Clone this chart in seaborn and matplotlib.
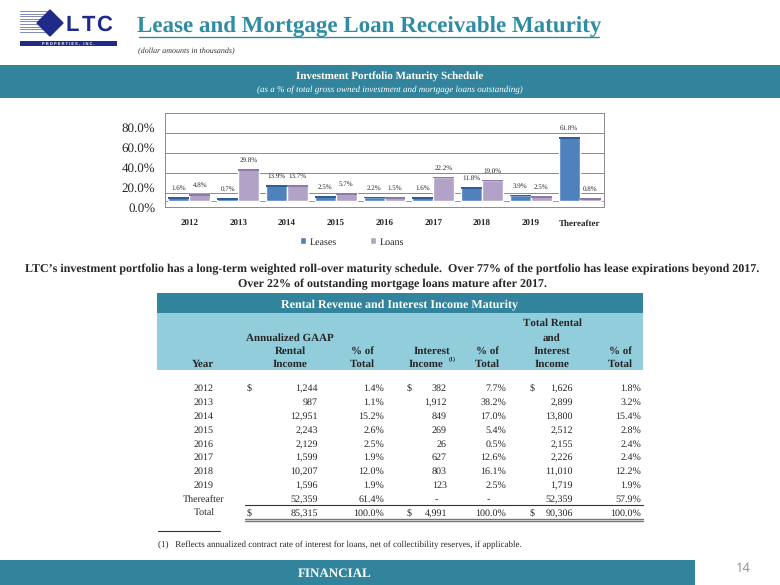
"""LTC slide 14: lease and mortgage loan receivable maturity."""

import matplotlib
matplotlib.use("Agg")
import matplotlib.pyplot as plt
import numpy as np
import pandas as pd
import seaborn as sns
from matplotlib.lines import Line2D
from matplotlib.patches import Polygon, Rectangle

# chart data (% of total gross owned investment and loans)
chart_years = ["2012", "2013", "2014", "2015", "2016", "2017", "2018", "2019", "Thereafter"]
leases = [1.6, 0.7, 13.9, 2.5, 2.2, 1.6, 11.8, 3.9, 61.8]
loans = [4.8, 29.8, 13.7, 5.7, 1.5, 22.2, 19.0, 2.5, 0.8]

# table data (dollar amounts in thousands)
table_years = ["2012", "2013", "2014", "2015", "2016", "2017", "2018", "2019", "Thereafter"]
rental_income = [1244, 987, 12951, 2243, 2129, 1599, 10207, 1596, 52359]
rental_pct = [1.4, 1.1, 15.2, 2.6, 2.5, 1.9, 12.0, 1.9, 61.4]
interest_income = [382, 1912, 849, 269, 26, 627, 803, 123, None]
interest_pct = [7.7, 38.2, 17.0, 5.4, 0.5, 12.6, 16.1, 2.5, None]
total_income = [1626, 2899, 13800, 2512, 2155, 2226, 11010, 1719, 52359]
total_pct = [1.8, 3.2, 15.4, 2.8, 2.4, 2.4, 12.2, 1.9, 57.9]
sum_rental, sum_interest, sum_total = 85315, 4991, 90306

TEAL = "#31849B"
LIGHT = "#92CDDC"
TITLE_C = "#2E8DA3"
NAVY = "#1F2A8A"
LEASE_C = "#4F81BD"
LOAN_C = "#B3A2C7"

W, H = 780, 585

sns.set_style("white")
plt.rcParams["font.family"] = "Liberation Serif"
# hinting off keeps numbers with commas on the same baseline as the rest of the row
plt.rcParams["text.hinting"] = "no_hinting"
plt.rcParams["text.hinting_factor"] = 1

fig = plt.figure(figsize=(W / 100, H / 100), dpi=100)


def fx(x):
    return x / W


def fy(y):
    return 1 - y / H


def box(x0, y0, x1, y1, color, z=0):
    fig.add_artist(Rectangle((fx(x0), fy(y1)), (x1 - x0) / W, (y1 - y0) / H,
                             transform=fig.transFigure, color=color, lw=0, zorder=z))


def hline(x0, x1, y, color="#555555", lw=0.8):
    fig.add_artist(Line2D([fx(x0), fx(x1)], [fy(y), fy(y)], transform=fig.transFigure,
                          color=color, lw=lw))


def txt(x, y, s, size=7.5, ha="center", **kw):
    # y is the visual middle of the caps
    fig.text(fx(x), fy(round(y + 0.46 * size)), s, fontsize=size, ha=ha, va="baseline", **kw)


# ---- logo ----
for yy in np.arange(11, 34, 2.6):
    hline(20, 50, yy, color="#7E88B8", lw=0.7)
fig.add_artist(Polygon([(fx(37), fy(23)), (fx(50), fy(10)), (fx(63), fy(23)), (fx(50), fy(36))],
                       closed=True, transform=fig.transFigure, color=NAVY, zorder=2))
for lx, letter in zip([72, 88, 104], "LTC"):
    txt(lx, 24, letter, size=16, family="Liberation Sans", weight="bold", color=NAVY)
box(20, 41, 117, 46, NAVY, z=2)
txt(68, 43.6, "P R O P E R T I E S ,   I N C .", size=3.2, family="Liberation Sans",
    weight="bold", color="white", zorder=3)

# ---- title ----
fig.text(fx(369), fy(33), "Lease and Mortgage Loan Receivable Maturity", fontsize=16.5,
         ha="center", va="baseline", weight="bold", color=TITLE_C)
hline(139, 599, 37, color=TITLE_C, lw=1.0)
txt(138, 50, "(dollar amounts in thousands)", size=6, ha="left", style="italic", color="#333333")

# ---- chart band ----
box(0, 65, W, 98, TEAL)
txt(390, 76, "Investment Portfolio Maturity Schedule", size=8, weight="bold", color="white")
txt(390, 89, "(as a % of total gross owned investment and mortgage loans outstanding)",
    size=6.3, style="italic", color="white")

# ---- chart ----
ax = fig.add_axes([fx(165), fy(207), (604 - 165) / W, (207 - 113) / H])
df = pd.DataFrame({
    "year": chart_years * 2,
    "value": leases + loans,
    "series": ["Leases"] * len(leases) + ["Loans"] * len(loans),
})
sns.barplot(data=df, x="year", y="value", hue="series", palette=[LEASE_C, LOAN_C],
            width=0.86, saturation=1, ax=ax, errorbar=None)

# fake the 3-D look of the original: lifted floor and a darker top face
FLOOR, LIFT, CAP = 6.4, 8.3, 1.6
tops = {LEASE_C: "#2F5E98", LOAN_C: "#8E7AAA"}
for cont, col in zip(ax.containers, [LEASE_C, LOAN_C]):
    for bar in cont:
        v = bar.get_height()
        x, w = bar.get_x(), bar.get_width()
        bar.set_y(FLOOR)
        bar.set_height(v + LIFT - FLOOR)
        ax.add_patch(Rectangle((x, v + LIFT - CAP), w, CAP, color=tops[col], lw=0, zorder=3))
        ax.text(x + w / 2, v + 17, f"{v:.1f}%", fontsize=5, ha="center", va="center")

ax.set_ylim(0, 94.5)
ax.set_xlim(-0.5, len(chart_years) - 0.5)
for g in [14, 34, 54, 74]:
    ax.axhline(g, color="#8A8A8A", lw=0.7, zorder=0)
ax.axhline(FLOOR, color="#8A8A8A", lw=0.6, zorder=0)
ax.set_yticks([0, 20, 40, 60, 80])
ax.set_yticklabels([f"{t:.1f}%" for t in [0, 20, 40, 60, 80]], fontsize=9.5)
ax.set_xticks(range(len(chart_years)))
ax.set_xticklabels(chart_years, fontsize=6.5, weight="bold")
ax.set_xticks(np.arange(-0.5, len(chart_years)), minor=True)
ax.tick_params(axis="x", which="major", length=0, pad=9)
ax.tick_params(axis="x", which="minor", length=3, color="#8A8A8A", direction="out")
ax.tick_params(axis="y", length=3, color="#8A8A8A", direction="out", pad=4)
ax.set_xlabel("")
ax.set_ylabel("")
for s in ax.spines.values():
    s.set_color("#8A8A8A")
    s.set_linewidth(0.7)

handles, labels = ax.get_legend_handles_labels()
ax.legend(handles, labels, loc="center", bbox_to_anchor=((352 - 165) / (604 - 165), -(242 - 207) / 94),
          ncol=2, frameon=False, fontsize=7.5, handlelength=0.6, handleheight=0.6,
          handletextpad=0.3, columnspacing=3.2)

# ---- paragraph ----
txt(392, 268, "LTC\u2019s investment portfolio has a long-term weighted roll-over maturity schedule.  "
    "Over 77% of the portfolio has lease expirations beyond 2017.", size=8.6, weight="bold")
txt(392, 283, "Over 22% of outstanding mortgage loans mature after 2017.", size=8.6, weight="bold")

# ---- table header ----
box(157, 293, 643, 313, TEAL)
box(157, 313, 643, 370, LIGHT)
txt(400, 303, "Rental Revenue and Interest Income Maturity", size=8.5, weight="bold", color="white")
hb = dict(size=8, weight="bold")
txt(203, 363, "Year", **hb)
txt(290, 337, "Annualized GAAP", **hb)
txt(290, 350, "Rental", **hb)
txt(290, 363, "Income", **hb)
txt(362, 350, "% of", **hb)
txt(362, 363, "Total", **hb)
txt(432, 350, "Interest", **hb)
txt(426, 363, "Income", **hb)
txt(452, 359, "(1)", size=4.5, weight="bold")
txt(487, 350, "% of", **hb)
txt(487, 363, "Total", **hb)
txt(552, 322, "Total Rental", **hb)
txt(552, 337, "and", **hb)
txt(552, 350, "Interest", **hb)
txt(552, 363, "Income", **hb)
txt(620, 350, "% of", **hb)
txt(620, 363, "Total", **hb)

# ---- table rows ----
X_YEAR, X_D1, X_R, X_RP, X_D2, X_I, X_IP, X_D3, X_T, X_TP = 204, 247, 318, 384, 407, 447, 506, 530, 573, 641
ROW0, STEP = 388, 13.8
for i, yr in enumerate(table_years):
    y = ROW0 + i * STEP
    txt(X_YEAR, y, yr)
    txt(X_R, y, f"{rental_income[i]:,}", ha="right")
    txt(X_RP, y, f"{rental_pct[i]:.1f}%", ha="right")
    if interest_income[i] is None:
        txt(436, y, "-")
        txt(488, y, "-")
    else:
        txt(X_I, y, f"{interest_income[i]:,}", ha="right")
        txt(X_IP, y, f"{interest_pct[i]:.1f}%", ha="right")
    txt(X_T, y, f"{total_income[i]:,}", ha="right")
    txt(X_TP, y, f"{total_pct[i]:.1f}%", ha="right")
    if i == 0:
        for xd in (X_D1, X_D2, X_D3):
            txt(xd, y, "$", ha="left")

y_tot = ROW0 + len(table_years) * STEP
hline(245, 643, y_tot - 7.5, color="#333333", lw=0.8)
txt(X_YEAR, y_tot, "Total")
for xd in (X_D1, X_D2, X_D3):
    txt(xd, y_tot, "$", ha="left")
txt(X_R, y_tot, f"{sum_rental:,}", ha="right")
txt(X_RP, y_tot, "100.0%", ha="right")
txt(X_I, y_tot, f"{sum_interest:,}", ha="right")
txt(X_IP, y_tot, "100.0%", ha="right")
txt(X_T, y_tot, f"{sum_total:,}", ha="right")
txt(X_TP, y_tot, "100.0%", ha="right")
hline(245, 643, y_tot + 6.5, color="#777777", lw=1.0)
hline(245, 643, y_tot + 8.5, color="#777777", lw=1.0)

# ---- footnote ----
hline(158, 220, 531, color="#333333", lw=0.8)
txt(158, 544, "(1)   Reflects annualized contract rate of interest for loans, net of collectibility "
    "reserves, if applicable.", size=6.4, ha="left")

# ---- footer ----
box(0, 560, 695, H, TEAL)
txt(335, 572.5, "FINANCIAL", size=9.5, weight="bold", color="white")
txt(743, 568, "14", size=9, family="Open Sans", color="#8C8C8C")

fig.savefig("out.png", dpi=100)
